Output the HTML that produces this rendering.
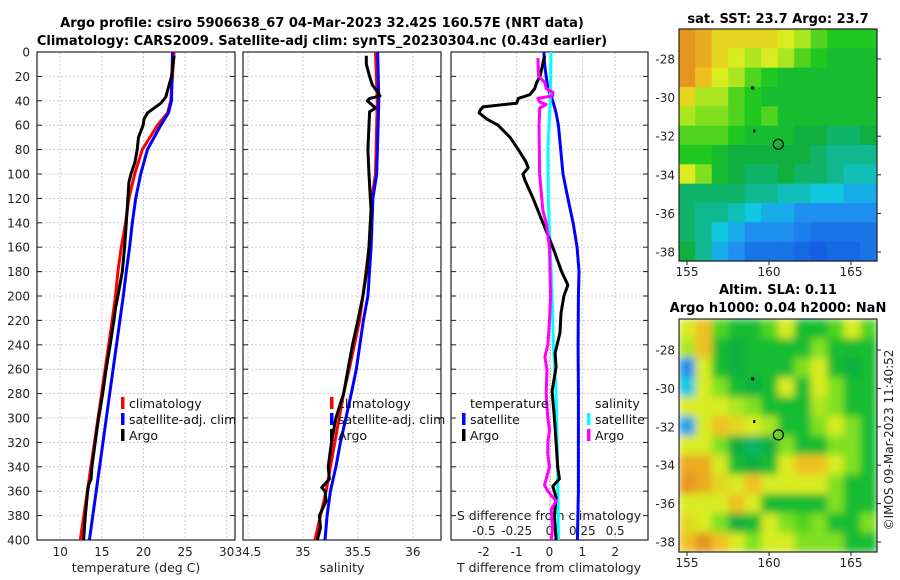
<!DOCTYPE html>
<html><head><meta charset="utf-8"><style>
html,body{margin:0;padding:0;background:#fff;}
svg{display:block;font-family:"DejaVu Sans","Liberation Sans",sans-serif;}
</style></head><body>
<svg id="fig" width="900" height="580" viewBox="0 0 900 580" xmlns="http://www.w3.org/2000/svg">
<defs><filter id="blur2" x="-0.1" y="-0.1" width="1.2" height="1.2"><feGaussianBlur stdDeviation="4" edgeMode="duplicate"/></filter>
<clipPath id="clipM2"><rect x="679" y="319" width="198" height="233"/></clipPath></defs>
<g id="layer"></g>
<text x="322" y="27" text-anchor="middle" font-size="13" font-weight="bold">Argo profile: csiro 5906638_67 04-Mar-2023 32.42S 160.57E (NRT data)</text>
<text x="322" y="45" text-anchor="middle" font-size="13" font-weight="bold">Climatology: CARS2009. Satellite-adj clim: synTS_20230304.nc (0.43d earlier)</text>
<text x="778" y="23" text-anchor="middle" font-size="13" font-weight="bold">sat. SST: 23.7 Argo: 23.7</text>
<text x="778" y="294" text-anchor="middle" font-size="13" font-weight="bold">Altim. SLA: 0.11</text>
<text x="778" y="312" text-anchor="middle" font-size="13" font-weight="bold">Argo h1000: 0.04 h2000: NaN</text>
<text transform="translate(893,440) rotate(-90)" text-anchor="middle" font-size="12" fill="#222">©IMOS 09-Mar-2023 11:40:52</text>
</svg>
<script>
// ---- profile data (depth in dbar) ----
const depthTicks = [0,20,40,60,80,100,120,140,160,180,200,220,240,260,280,300,320,340,360,380,400];
const tTickVals = [10,15,20,25,30];
const sTickVals = [34.5,35,35.5,36];
const dTTickVals = [-2,-1,0,1,2];
const dSTickVals = [-0.5,-0.25,0,0.25,0.5];
const dSTickLabels = ["-0.5","-0.25","0","0.25","0.5"];

const tClimDepth = [0,40,50,60,80,100,120,140,160,180,200,220,280,340,400];
const tClim = [23.68,23.28,22.89,21.68,19.86,18.94,18.25,17.85,17.33,16.93,16.64,16.24,14.96,13.68,12.4];
const tSatClim = [23.49,23.37,23.0,22.08,20.47,19.66,19.06,18.66,18.33,17.93,17.57,17.16,15.94,14.72,13.5];
const tArgoDepth = [3,20,30,37,42,47,50,55,60,70,80,90,100,107,120,140,160,180,200,210,220,240,260,280,300,320,340,350,355,360,380,400];
const tArgo = [23.68,23.37,22.96,22.68,22.08,21.07,20.47,20.06,19.95,19.4,19.25,18.98,18.5,18.25,18.13,17.93,17.73,17.45,16.92,16.64,16.44,16.0,15.5,15.1,14.6,14.2,13.8,13.7,13.4,13.3,13.0,12.8];

const sClimDepth = [0,40,100,120,160,200,220,260,280,300,320,340,360,380,400];
const sClim = [35.66,35.676,35.66,35.625,35.6,35.545,35.515,35.42,35.37,35.33,35.29,35.25,35.21,35.16,35.11];
const sSatClim = [35.68,35.69,35.67,35.636,35.62,35.59,35.55,35.485,35.44,35.39,35.34,35.3,35.25,35.22,35.2];
const sArgoDepth = [3,10,20,27,33,36,38,40,43,46,49,60,80,100,115,130,160,180,200,220,240,260,280,300,320,340,350,357,360,368,380,390,400];
const sArgo = [35.576,35.576,35.606,35.63,35.68,35.70,35.606,35.585,35.625,35.66,35.606,35.6,35.59,35.6,35.61,35.62,35.6,35.58,35.545,35.5,35.45,35.41,35.37,35.3,35.26,35.23,35.24,35.17,35.2,35.21,35.15,35.16,35.13];

const dTSatDepth = [0,10,20,30,40,50,60,80,100,120,140,160,180,200,240,280,320,360,400];
const dTSat = [-0.17,-0.15,-0.1,-0.05,0.1,0.2,0.27,0.34,0.41,0.56,0.72,0.84,0.9,0.88,0.87,0.88,0.88,0.88,0.85];
const dTArgoDepth = [3,20,25,30,35,38,42,45,48,50,55,60,70,80,90,95,100,105,120,140,160,180,191,200,214,230,247,258,278,300,320,340,350,356,365,380,400];
const dTArgo = [-0.15,-0.29,-0.39,-0.45,-0.6,-0.95,-1.0,-2.03,-2.12,-2.14,-1.91,-1.57,-1.2,-0.95,-0.72,-0.65,-0.81,-0.75,-0.5,-0.2,0.1,0.37,0.56,0.44,0.35,0.32,0.17,0.2,0.08,0.15,0.2,0.25,0.3,0.1,0.2,0.15,0.2];
const dSSatDepth = [0,40,80,120,160,200,240,280,320,360,400];
const dSSat = [0.012,0.005,-0.012,-0.01,0.005,0.02,0.03,0.05,0.058,0.064,0.068];
const dSArgoDepth = [5,20,25,30,33,36,38,41,43,46,50,60,100,130,140,160,200,220,240,250,260,280,300,310,320,330,340,355,360,368,375,390,400];
const dSArgo = [-0.088,-0.083,-0.035,-0.025,0.025,0.025,-0.088,-0.075,-0.025,-0.075,-0.075,-0.08,-0.075,-0.05,-0.025,0,0.008,0,-0.013,-0.035,-0.02,-0.025,-0.013,0,-0.013,-0.013,0,-0.038,-0.013,0.05,0.013,0.025,0.013];

// ---- map data (0..10 colour index) ----
const sstGrid = [
[9.5,9,8,8,8,8,7.5,7,6,5.5,5.5,5.5],
[9.5,9,8,7.5,7,7.5,7,6,5.5,5,5,5],
[9.5,8.5,7.5,7,6,5.5,5,5,5,5,5,5],
[8,7,7,6,5.5,5,5,5,5,5,5,5],
[7,6.5,6.5,6,5.5,6,5,5,5,5,5,5],
[6,6,6,5.5,5,5,5,4.5,4.5,4,4,4.5],
[5.5,5.5,5,4.5,4.5,4.5,4.5,4.5,4,3.5,3.5,3.5],
[7.5,6.5,5,4.5,4,4,4.5,4,4,3.5,3,3],
[4,4,4,4,3.5,3.5,3,3,2.5,2.5,2,2],
[4,3.5,3.5,3,2.5,2,2,1.5,1.5,1.5,1.5,1.5],
[4,3.5,2.5,2,1.5,1.5,1.5,1.2,1,1,1,1],
[4.5,3.5,2,1.5,1,1,1,0.8,0.6,0.8,0.8,1]];
const slaGrid = [
[7.5,8.5,6,5,5,6,7.5,5,5,6,7.5,6],
[7,8.5,5,4.5,5,5,5,5,6.5,5,5,5],
[1.5,7.5,5,4.5,5,5,5,6.5,7.5,5,4.5,5],
[2.5,7.5,6.5,5,4.5,5,7.5,5,7.5,6.5,5,5],
[7.5,7.5,7.5,7,6.5,5,5,5,7,6.5,5,5],
[1.8,7.5,8.5,8,7.5,7,5,5,6.5,7.5,6.5,5],
[7.5,7.5,6.5,4.5,4,4.5,6.5,5,5,6.5,6.5,5],
[9,9,7.5,5,4.5,5,7.5,8.5,8.5,7.5,6.5,5],
[9.5,9,8,7.5,8.5,7.5,7.5,7.5,7.5,6.5,5,5],
[7.5,7.5,7.5,8.5,7.5,5,5,5,5,6.5,5,5],
[8,7.5,6.5,4.5,5,7.5,6.5,6,6.5,5,5,6.5],
[8.5,9.5,8.5,7.5,6.5,7.5,7.5,6.5,6.5,6.5,5,5]];
const latTicks = [-28,-30,-32,-34,-36,-38];
const lonTicks = [155,160,165];
const argoLon = 160.57, argoLat = -32.42;

const NS = "http://www.w3.org/2000/svg";
const layer = document.getElementById('layer');
function mk(tag, attrs, parent){ const e=document.createElementNS(NS,tag); for(const k in attrs) e.setAttribute(k,attrs[k]); (parent||layer).appendChild(e); return e; }

const Y0=52, Y1=540, DMAX=400;
const yD = d => Y0 + d/DMAX*(Y1-Y0);
const panels = [
  {x0:37,x1:235,lo:7.2,hi:31.0},
  {x0:243,x1:441,lo:34.455,hi:36.255},
  {x0:451,x1:648,lo:-3.0,hi:3.0}
];
const xS = (p,v) => p.x0 + (v-p.lo)/(p.hi-p.lo)*(p.x1-p.x0);
const xDS = v => xS(panels[2], v*4);

function panelFrame(p, ticks, labels, pname){
  const g = mk('g',{});
  
  
  ticks.forEach(v=>{ const x=xS(p,v); const l=mk('line',{x1:x,x2:x,y1:Y0,y2:Y1,stroke:'#d8c8d8','stroke-width':1,'stroke-dasharray':'2,2'},g);
      });
  depthTicks.forEach(d=>{ const y=yD(d); const l=mk('line',{x1:p.x0,x2:p.x1,y1:y,y2:y,stroke:'#c8cce8','stroke-width':1,'stroke-dasharray':'2,2'},g);
     
    mk('line',{x1:p.x0,x2:p.x0+5,y1:y,y2:y,stroke:'#222'},g); mk('line',{x1:p.x1-5,x2:p.x1,y1:y,y2:y,stroke:'#222'},g); });
  ticks.forEach((v,i)=>{ const x=xS(p,v);
    const t=mk('text',{x:x,y:556,'text-anchor':'middle','font-size':12,fill:'#222'},g); t.textContent=labels[i];
      });
  const r=mk('rect',{x:p.x0,y:Y0,width:p.x1-p.x0,height:Y1-Y0,fill:'none',stroke:'#222','stroke-width':1.2},g);
   
}
panelFrame(panels[0], tTickVals, tTickVals.map(String), 'temperature-panel');
panelFrame(panels[1], sTickVals, sTickVals.map(String), 'salinity-panel');
panelFrame(panels[2], dTTickVals, dTTickVals.map(String), 'difference-panel');

depthTicks.forEach(d=>{ const t=mk('text',{x:30,y:yD(d)+4.5,'text-anchor':'end','font-size':12,fill:'#222'}); t.textContent=String(d);
    });

function xlabel(x,y,txt,name){ const t=mk('text',{x:x,y:y,'text-anchor':'middle','font-size':12.5,fill:'#222'}); t.textContent=txt;
    }
xlabel(136,572,'temperature (deg C)','temperature-axis-title');
xlabel(342,572,'salinity','salinity-axis-title');
xlabel(549,572,'T difference from climatology','t-difference-axis-title');
xlabel(549,520,'S difference from climatology','s-difference-axis-title');
dSTickVals.forEach((v,i)=>{ const t=mk('text',{x:xDS(v),y:535,'text-anchor':'middle','font-size':12,fill:'#222'}); t.textContent=dSTickLabels[i];
    });

const zl = mk('line',{x1:xS(panels[2],0)+1,x2:xS(panels[2],0)+1,y1:yD(180),y2:yD(390),stroke:'#a08060','stroke-width':1,'stroke-dasharray':'1,2'});
 

function series(depths, vals, xf, color, w, name){
  const d = depths.map((dp,i)=>(i?'L':'M')+xf(vals[i]).toFixed(1)+','+yD(dp).toFixed(1)).join(' ');
  const p = mk('path',{d:d,fill:'none',stroke:color,'stroke-width':w,'stroke-linejoin':'round'});
   
}
const xT = v=>xS(panels[0],v), xSal = v=>xS(panels[1],v), xDT = v=>xS(panels[2],v);
series(tClimDepth,tClim,xT,'#ff0000',3,'temperature-climatology-line');
series(tClimDepth,tSatClim,xT,'#0000ff',3,'temperature-satellite-clim-line');
series(tArgoDepth,tArgo,xT,'#000000',3,'temperature-argo-line');
series(sClimDepth,sClim,xSal,'#ff0000',3,'salinity-climatology-line');
series(sClimDepth,sSatClim,xSal,'#0000ff',3,'salinity-satellite-clim-line');
series(sArgoDepth,sArgo,xSal,'#000000',3,'salinity-argo-line');
series(dTSatDepth,dTSat,xDT,'#0000ff',3,'t-difference-satellite-line');
series(dSSatDepth,dSSat,xDS,'#00ffff',3,'s-difference-satellite-line');
series(dTArgoDepth,dTArgo,xDT,'#000000',3,'t-difference-argo-line');
series(dSArgoDepth,dSArgo,xDS,'#ff00ff',3,'s-difference-argo-line');

function legendItem(x,y,color,txt,name){
  const g=mk('g',{});  
  if(color) mk('rect',{x:x,y:y-11,width:3.5,height:12,fill:color},g);
  const t=mk('text',{x:x+8,y:y,'font-size':12.5,fill:'#111'},g); t.textContent=txt;
}
legendItem(121,408,'#ff0000','climatology','legend-entry-climatology');
legendItem(121,424,'#0000ff','satellite-adj. clim','legend-entry-satellite-clim');
legendItem(121,440,'#000000','Argo','legend-entry-argo');
legendItem(330,408,'#ff0000','climatology','salinity-legend-climatology');
legendItem(330,424,'#0000ff','satellite-adj. clim','salinity-legend-satellite-clim');
legendItem(330,440,'#000000','Argo','salinity-legend-argo');
legendItem(462,408,null,'temperature','diff-legend-temperature-header');
legendItem(462,424,'#0000ff','satellite','diff-legend-t-satellite');
legendItem(462,440,'#000000','Argo','diff-legend-t-argo');
legendItem(587,408,null,'salinity','diff-legend-salinity-header');
legendItem(587,424,'#00ffff','satellite','diff-legend-s-satellite');
legendItem(587,440,'#ff00ff','Argo','diff-legend-s-argo');

// ---- maps ----
const cStops=[[0,[10,60,216]],[1.5,[32,144,240]],[2.5,[16,200,224]],[3.5,[16,184,144]],[4.5,[16,176,64]],[5.5,[32,200,32]],[6.5,[128,224,32]],[7.5,[216,236,32]],[8.5,[240,192,32]],[10,[224,128,32]]];
function cmap(v){ for(let i=1;i<cStops.length;i++){ if(v<=cStops[i][0]){ const a=cStops[i-1],b=cStops[i],f=(v-a[0])/(b[0]-a[0]);
  return 'rgb('+a[1].map((c,k)=>Math.round(c+(b[1][k]-c)*f)).join(',')+')'; } } return 'rgb(224,128,32)'; }
const MX0=679, MX1=877;
const lonX = lo => 687 + (lo-155)*16.4;
function drawMap(grid, top, bot, lat28y, lat38y, name, smooth){
  const g=mk('g',{});  
  const cg = mk('g', smooth?{'clip-path':'url(#clipM2)'}:{}, g);
  const inner = mk('g', smooth?{filter:'url(#blur2)'}:{}, cg);
  const rows=grid.length, cols=grid[0].length, cw=(MX1-MX0)/cols, rh=(bot-top)/rows;
  grid.forEach((row,r)=>row.forEach((v,c)=>{
    const cell=mk('rect',{x:(MX0+c*cw-0.3).toFixed(1),y:(top+r*rh).toFixed(1),width:(cw+0.6).toFixed(1),height:(rh+0.6).toFixed(1),fill:cmap(v)},inner);
     
  }));
  const latY = la => lat28y + (la+28)/(-10)*(lat38y-lat28y);
  latTicks.forEach(la=>{ const y=latY(la);
    mk('line',{x1:MX1,x2:MX1+4,y1:y,y2:y,stroke:'#222'},g);
    const t=mk('text',{x:675,y:y+4.5,'text-anchor':'end','font-size':12,fill:'#222'},g); t.textContent=String(la);
      });
  lonTicks.forEach(lo=>{ const x=lonX(lo);
    mk('line',{x1:x,x2:x,y1:bot,y2:bot+4,stroke:'#222'},g);
    const t=mk('text',{x:x,y:bot+15,'text-anchor':'middle','font-size':12,fill:'#222'},g); t.textContent=String(lo);
      });
  const ax=lonX(argoLon), ay=latY(argoLat);
  const c=mk('circle',{cx:ax,cy:ay,r:5,fill:'none',stroke:'#000','stroke-width':1.2},g);
   
  mk('rect',{x:lonX(159)-1.5,y:latY(-29.5)-1.5,width:3,height:3,fill:'#000'},g);
  mk('rect',{x:lonX(159.1)-1,y:latY(-31.7)-1,width:2,height:3,fill:'#000'},g);
  const f=mk('rect',{x:MX0,y:top,width:MX1-MX0,height:bot-top,fill:'none',stroke:'#222','stroke-width':1.2},g);
   
}
drawMap(sstGrid,29,261,59,252,'sst-map',false);
drawMap(slaGrid,319,552,350,542,'sla-map',true);
</script>
</body></html>
